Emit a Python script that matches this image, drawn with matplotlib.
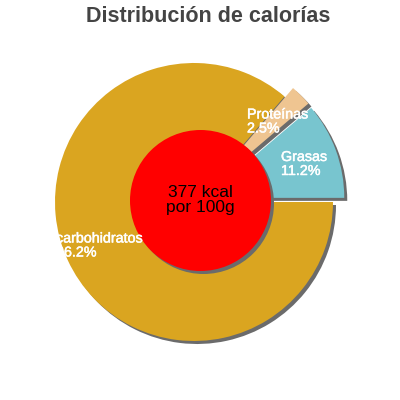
import matplotlib
matplotlib.use("Agg")
import matplotlib.pyplot as plt
import matplotlib.patheffects as pe
from matplotlib.patches import Circle

# calorie split (percent of kcal)
labels = ["Grasas", "Proteínas", "carbohidratos"]
percents = [11.2, 2.5, 86.2]
colors = ["#78c5cf", "#efc591", "#daa520"]
explode = [12, 12, 0]  # pie() uses data units here
kcal = 377
center_text = f"{kcal} kcal\npor 100g"

plt.rcParams['font.family'] = ['Liberation Sans', 'DejaVu Sans']

fig = plt.figure(figsize=(4, 4), dpi=100)
ax = fig.add_axes([0, 0, 1, 1])

pie_center = (194, 198)
radius = 139
shadow_off = (3, -3)

# shadow first, then the real slices on top
ax.pie(percents, explode=explode, colors=["#6b6b6b"] * 3, startangle=0,
       center=(pie_center[0] + shadow_off[0], pie_center[1] + shadow_off[1]),
       radius=radius, wedgeprops=dict(linewidth=0), frame=True)
ax.pie(percents, explode=explode, colors=colors, startangle=0,
       center=pie_center, radius=radius, wedgeprops=dict(linewidth=0),
       frame=True)
ax.set_xlim(0, 400)
ax.set_ylim(0, 400)
ax.set_aspect('equal')
ax.axis('off')

# red centre disc with its own shadow
ax.add_patch(Circle((200.5 + shadow_off[0], 199.5 + shadow_off[1]), 70.5,
                    color="#6b6b6b", lw=0, zorder=5))
ax.add_patch(Circle((200.5, 199.5), 70.5, color="#ff0000", lw=0, zorder=6))
ax.text(200.5, 200, center_text, ha='center', va='center', fontsize=12.5,
        color='black', linespacing=1.0, zorder=7)

# slice labels (white, left aligned)
label_pos = {"Grasas": (281, 236), "Proteínas": (247, 278.5),
             "carbohidratos": (56, 154.5)}
for lab, pct in zip(labels, percents):
    x, y = label_pos[lab]
    ax.text(x, y, f"{lab}\n{pct}%", ha='left', va='center', fontsize=10.3,
            color='white', linespacing=1.0, zorder=8,
            path_effects=[pe.withStroke(linewidth=0.35, foreground='white')])

fig.text(208 / 400, 1 - 17 / 400, "Distribución de calorías", ha='center',
         va='center', fontsize=15.5, fontweight='bold', color='#444444')

fig.savefig("out.png", dpi=100)
